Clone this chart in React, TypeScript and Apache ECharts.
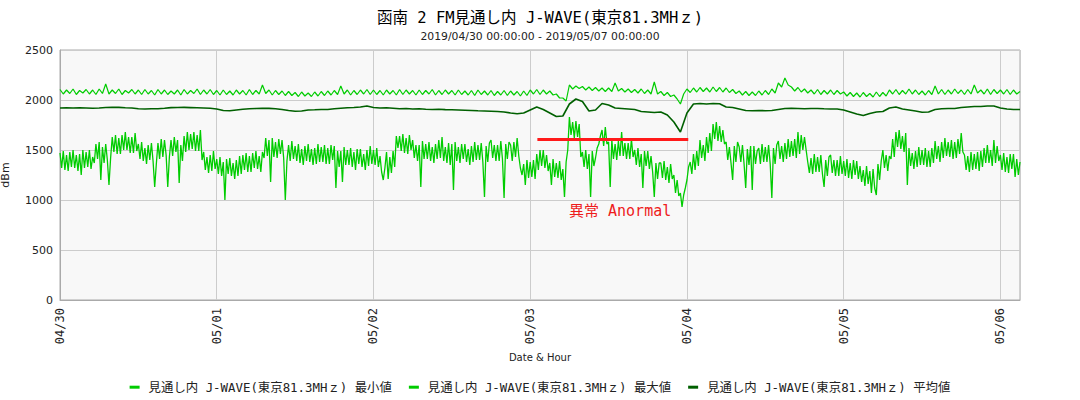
import React, { useEffect, useRef } from 'react';
import * as echarts from 'echarts';

const dayLabels = ['04/30', '05/01', '05/02', '05/03', '05/04', '05/05', '05/06'];

const seriesNames = [
  '見通し内 J-WAVE(東京81.3MHｚ) 最小値',
  '見通し内 J-WAVE(東京81.3MHｚ) 最大値',
  '見通し内 J-WAVE(東京81.3MHｚ) 平均値',
];

// minimum: one value every 15 minutes from 04/30 00:00
const minValues = [
  1470, 1320, 1490, 1300, 1450, 1290, 1480, 1330, 1500, 1320, 1450, 1290, 1460, 1250, 1500, 1320, 1480, 1330, 1500, 1310, 1430, 1370, 1560, 1410,
  1580, 1200, 1530, 1370, 1560, 1400, 1150, 1420, 1630, 1480, 1650, 1460, 1620, 1460, 1650, 1500, 1680, 1500, 1630, 1470, 1630, 1470, 1670, 1490,
  1560, 1410, 1580, 1390, 1520, 1360, 1550, 1400, 1570, 1390, 1130, 1360, 1570, 1410, 1610, 1430, 1600, 1450, 1130, 1430, 1600, 1440, 1630, 1480,
  1600, 1170, 1550, 1390, 1640, 1480, 1680, 1500, 1660, 1510, 1680, 1490, 1650, 1490, 1700, 1400, 1480, 1300, 1430, 1270, 1450, 1290, 1490, 1310,
  1410, 1260, 1430, 1240, 1380, 1000, 1410, 1260, 1420, 1240, 1370, 1210, 1400, 1240, 1440, 1260, 1450, 1300, 1470, 1280, 1440, 1280, 1470, 1320,
  1490, 1310, 1440, 1280, 1480, 1420, 1620, 1440, 1600, 1180, 1620, 1430, 1580, 1420, 1610, 1460, 1600, 1420, 1000, 1390, 1550, 1390, 1590, 1410,
  1540, 1390, 1560, 1370, 1510, 1350, 1540, 1390, 1560, 1380, 1510, 1350, 1520, 1360, 1560, 1380, 1530, 1380, 1550, 1360, 1520, 1360, 1550, 1400,
  1540, 1120, 1490, 1330, 1490, 1180, 1530, 1350, 1500, 1350, 1520, 1330, 1480, 1300, 1510, 1360, 1510, 1330, 1460, 1300, 1500, 1340, 1540, 1360,
  1500, 1350, 1520, 1330, 1440, 1280, 1200, 1320, 1480, 1210, 1430, 1270, 1490, 1330, 1640, 1520, 1640, 1490, 1660, 1470, 1620, 1460, 1650, 1500,
  1600, 1420, 1550, 1390, 1550, 1130, 1590, 1410, 1560, 1410, 1580, 1390, 1530, 1370, 1560, 1410, 1600, 1420, 1630, 1390, 1530, 1370, 1570, 1350,
  1560, 1100, 1580, 1390, 1530, 1370, 1560, 1410, 1560, 1380, 1510, 1350, 1540, 1380, 1580, 1400, 1550, 1400, 1570, 1380, 1030, 1540, 1380, 1570,
  1600, 1420, 1550, 1390, 1550, 1390, 1590, 1410, 1020, 1560, 1410, 1580, 1550, 1390, 1580, 1430, 1620, 1440, 1320, 1250, 1360, 1150, 1400, 1220,
  1380, 1230, 1400, 1210, 1460, 1300, 1500, 1340, 1500, 1320, 1450, 1290, 1370, 1150, 1410, 1230, 1370, 1220, 1390, 1200, 1310, 1030, 1380, 1500,
  1830, 1650, 1780, 1620, 1790, 1630, 1760, 1430, 1480, 1330, 1500, 1310, 1460, 1030, 1490, 1340, 1420, 1520, 1560, 1640, 1700, 1540, 1730, 1560,
  1580, 1130, 1600, 1410, 1560, 1400, 1590, 1440, 1680, 1440, 1570, 1410, 1570, 1410, 1610, 1430, 1500, 1350, 1520, 1330, 1460, 1120, 1490, 1340,
  1490, 1310, 1440, 1280, 1030, 1370, 1210, 1370, 1370, 1220, 1390, 1200, 1330, 1170, 1360, 1210, 1250, 1070, 1200, 1040, 1070, 930, 1050, 1120,
  1200, 1330, 1380, 1260, 1460, 1300, 1490, 1340, 1600, 1420, 1550, 1390, 1630, 1470, 1670, 1490, 1760, 1610, 1780, 1590, 1740, 1580, 1700, 1560,
  1580, 1400, 1530, 1370, 1200, 1540, 1380, 1580, 1530, 1380, 1550, 1360, 1120, 1510, 1350, 1540, 1100, 1540, 1360, 1490, 1520, 1360, 1560, 1380,
  1530, 1380, 1550, 1360, 1020, 1520, 1360, 1550, 1590, 1410, 1540, 1380, 1570, 1410, 1610, 1430, 1590, 1440, 1610, 1420, 1680, 1460, 1650, 1500,
  1630, 1500, 1380, 1270, 1420, 1260, 1460, 1280, 1430, 1280, 1450, 1260, 1130, 1400, 1240, 1430, 1450, 1270, 1400, 1240, 1400, 1240, 1440, 1260,
  1390, 1240, 1410, 1220, 1370, 1210, 1400, 1250, 1390, 1210, 1340, 1180, 1300, 1140, 1340, 1160, 1290, 1070, 1310, 1120, 1050, 1360, 1200, 1390,
  1500, 1320, 1450, 1290, 1440, 1410, 1610, 1430, 1680, 1530, 1700, 1510, 1640, 1480, 1670, 1150, 1520, 1340, 1470, 1310, 1490, 1330, 1530, 1350,
  1500, 1350, 1520, 1330, 1490, 1330, 1520, 1370, 1590, 1410, 1540, 1380, 1580, 1420, 1620, 1440, 1580, 1430, 1600, 1410, 1580, 1420, 1610, 1460,
  1670, 1480, 1450, 1300, 1440, 1280, 1480, 1300, 1460, 1310, 1480, 1290, 1490, 1330, 1520, 1370, 1550, 1370, 1500, 1340, 1600, 1370, 1540, 1390,
  1450, 1300, 1470, 1280, 1430, 1270, 1460, 1310, 1460, 1230, 1410, 1250, 1380,
];

// maximum: one value every 30 minutes
const maxValues = [
  2105, 2060, 2100, 2065, 2110, 2055, 2095, 2070, 2105, 2060, 2100, 2055, 2110, 2065, 2160, 2060, 2100, 2065, 2110, 2055, 2095, 2070, 2105, 2060,
  2100, 2055, 2105, 2060, 2095, 2050, 2105, 2060, 2100, 2055, 2090, 2060, 2100, 2050, 2105, 2060, 2095, 2065, 2110, 2055, 2100, 2060, 2105, 2055,
  2095, 2050, 2100, 2055, 2090, 2050, 2100, 2060, 2095, 2050, 2105, 2055, 2095, 2060, 2150, 2065, 2100, 2050, 2095, 2055, 2090, 2045, 2085, 2045,
  2075, 2035, 2080, 2040, 2070, 2035, 2080, 2040, 2085, 2045, 2090, 2050, 2095, 2055, 2140, 2060, 2100, 2050, 2095, 2055, 2100, 2060, 2105, 2055,
  2100, 2055, 2095, 2050, 2100, 2060, 2095, 2050, 2105, 2055, 2100, 2060, 2095, 2050, 2100, 2055, 2095, 2060, 2105, 2050, 2095, 2055, 2100, 2060,
  2095, 2050, 2100, 2055, 2090, 2050, 2095, 2045, 2100, 2055, 2090, 2050, 2095, 2045, 2085, 2050, 2095, 2045, 2090, 2050, 2085, 2040, 2090, 2045,
  2100, 2060, 2105, 2055, 2100, 2060, 2090, 2050, 2060, 2020, 2020, 1990, 2150, 2110, 2140, 2115, 2135, 2100, 2130, 2095, 2125, 2090, 2120, 2085,
  2120, 2085, 2170, 2090, 2115, 2080, 2110, 2075, 2105, 2070, 2110, 2065, 2100, 2060, 2180, 2060, 2085, 2045, 2075, 2035, 2050, 2010, 1960, 2060,
  2110, 2075, 2120, 2080, 2125, 2085, 2120, 2080, 2130, 2085, 2125, 2080, 2120, 2075, 2105, 2065, 2090, 2050, 2085, 2045, 2080, 2045, 2090, 2050,
  2095, 2055, 2110, 2070, 2170, 2130, 2220, 2150, 2130, 2090, 2125, 2080, 2110, 2070, 2100, 2060, 2105, 2055, 2095, 2060, 2100, 2055, 2095, 2060,
  2080, 2040, 2075, 2035, 2070, 2030, 2075, 2035, 2065, 2030, 2080, 2035, 2075, 2040, 2100, 2060, 2105, 2055, 2095, 2060, 2110, 2060, 2100, 2055,
  2090, 2050, 2095, 2055, 2140, 2060, 2105, 2055, 2100, 2060, 2110, 2065, 2100, 2055, 2105, 2060, 2150, 2070, 2100, 2060, 2110, 2055, 2105, 2065,
  2100, 2060, 2105, 2055, 2100, 2060, 2085,
];

// average: one value every hour
const avgValues = [
  1920, 1922, 1920, 1921, 1920, 1918, 1920, 1925, 1928, 1926, 1922, 1920, 1912, 1910, 1912, 1913, 1918, 1924, 1925, 1926, 1924, 1922, 1920, 1918,
  1910, 1895, 1892, 1900, 1908, 1912, 1915, 1918, 1916, 1912, 1905, 1895, 1888, 1890, 1900, 1902, 1905, 1905, 1912, 1918, 1922, 1925, 1930, 1940,
  1925, 1920, 1922, 1918, 1912, 1915, 1910, 1912, 1908, 1905, 1908, 1904, 1902, 1900, 1898, 1895, 1892, 1890, 1888, 1885, 1880, 1870, 1862, 1870,
  1900, 1930, 1905, 1870, 1835, 1840, 1960, 2010, 1985, 1890, 1900, 1965, 1950, 1920, 1915, 1910, 1905, 1885, 1880, 1875, 1880, 1850, 1780, 1680,
  1870, 1960, 1965, 1960, 1965, 1962, 1930, 1925, 1910, 1895, 1893, 1895, 1893, 1895, 1905, 1915, 1918, 1915, 1912, 1915, 1915, 1912, 1910, 1910,
  1900, 1880, 1860, 1845, 1865, 1880, 1885, 1920, 1930, 1910, 1900, 1890, 1878, 1880, 1905, 1912, 1915, 1915, 1925, 1930, 1935, 1935, 1940, 1940,
  1920, 1910, 1905, 1905,
];

const anomalyStartHour = 73.1;
const anomalyEndHour = 96.2;
const anomalyLevel = 1610;

export default function App() {
  const ref = useRef<HTMLDivElement>(null);
  useEffect(() => {
    document.body.style.margin = '0';
    const chart = echarts.init(ref.current as HTMLDivElement, null, { renderer: 'svg' });
    const toPairs = (arr: number[], step: number) => arr.map((v, i) => [i * step, v]);
    const bright = '#00cc00';
    const dark = '#006000';
    const monoJP = '"DejaVu Sans Mono", "Noto Sans CJK JP"';
    chart.setOption({
      animation: false,
      backgroundColor: '#ffffff',
      title: {
        text: '函南 2 FM見通し内 J-WAVE(東京81.3MHｚ)',
        subtext: '2019/04/30 00:00:00 - 2019/05/07 00:00:00',
        left: 'center',
        top: 5,
        itemGap: 5,
        textStyle: { fontFamily: monoJP, fontSize: 15.5, fontWeight: 'normal', color: '#000' },
        subtextStyle: { fontFamily: 'DejaVu Sans', fontSize: 10.8, color: '#222' },
      },
      legend: {
        top: 376,
        left: 'center',
        itemGap: 17,
        icon: 'rect',
        itemWidth: 10,
        itemHeight: 3,
        textStyle: { fontFamily: monoJP, fontSize: 12.4, color: '#222', padding: [0, 0, 0, 4] },
        data: seriesNames,
      },
      grid: {
        left: 60,
        right: 60,
        top: 50,
        bottom: 100,
        containLabel: false,
        outerBoundsMode: 'none',
        show: true,
        backgroundColor: '#f8f8f8',
        borderColor: '#aaaaaa',
        borderWidth: 1,
      },
      xAxis: {
        type: 'value',
        min: 0,
        max: 147,
        interval: 24,
        name: 'Date & Hour',
        nameLocation: 'middle',
        nameGap: 52,
        nameTextStyle: { fontFamily: 'DejaVu Sans', fontSize: 10, color: '#222' },
        axisLine: { show: true, lineStyle: { color: '#aaaaaa' } },
        axisTick: { show: false },
        splitLine: { show: true, lineStyle: { color: '#cccccc' } },
        axisLabel: {
          rotate: 90,
          margin: 8,
          showMaxLabel: false,
          fontFamily: 'DejaVu Sans Mono',
          fontSize: 12,
          color: '#222',
          formatter: (v: number) => (v % 24 === 0 ? dayLabels[v / 24] || '' : ''),
        },
      },
      yAxis: {
        type: 'value',
        min: 0,
        max: 2500,
        interval: 500,
        name: 'dBm',
        nameLocation: 'middle',
        nameGap: 49,
        nameTextStyle: { fontFamily: 'DejaVu Sans', fontSize: 11, color: '#222' },
        axisLine: { show: true, lineStyle: { color: '#aaaaaa' } },
        axisTick: { show: false },
        splitLine: { show: true, lineStyle: { color: '#cccccc' } },
        axisLabel: {
          fontFamily: 'DejaVu Sans',
          fontSize: 11,
          color: '#222',
          margin: 7,
          formatter: (v: number) => String(v),
        },
      },
      series: [
        {
          name: seriesNames[0],
          type: 'line',
          data: toPairs(minValues, 0.25),
          showSymbol: false,
          symbol: 'none',
          lineStyle: { width: 1.3, color: bright },
          itemStyle: { color: bright },
          markLine: {
            silent: true,
            symbol: 'none',
            label: { show: false },
            lineStyle: { color: '#ff1a1a', width: 3, type: 'solid' },
            data: [[{ coord: [anomalyStartHour, anomalyLevel] }, { coord: [anomalyEndHour, anomalyLevel] }]],
          },
        },
        {
          name: seriesNames[1],
          type: 'line',
          data: toPairs(maxValues, 0.5),
          showSymbol: false,
          symbol: 'none',
          lineStyle: { width: 1.2, color: bright },
          itemStyle: { color: bright },
        },
        {
          name: seriesNames[2],
          type: 'line',
          data: toPairs(avgValues, 1),
          showSymbol: false,
          symbol: 'none',
          lineStyle: { width: 1.6, color: dark },
          itemStyle: { color: dark },
        },
      ],
      graphic: [
        {
          type: 'text',
          left: 569,
          top: 203,
          style: { text: '異常 Anormal', fill: '#ee1c1c', font: '15px "DejaVu Sans Mono", "Noto Sans CJK JP"' },
        },
      ],
    });
    return () => chart.dispose();
  }, []);
  return <div ref={ref} style={{ width: 1080, height: 400 }} />;
}
